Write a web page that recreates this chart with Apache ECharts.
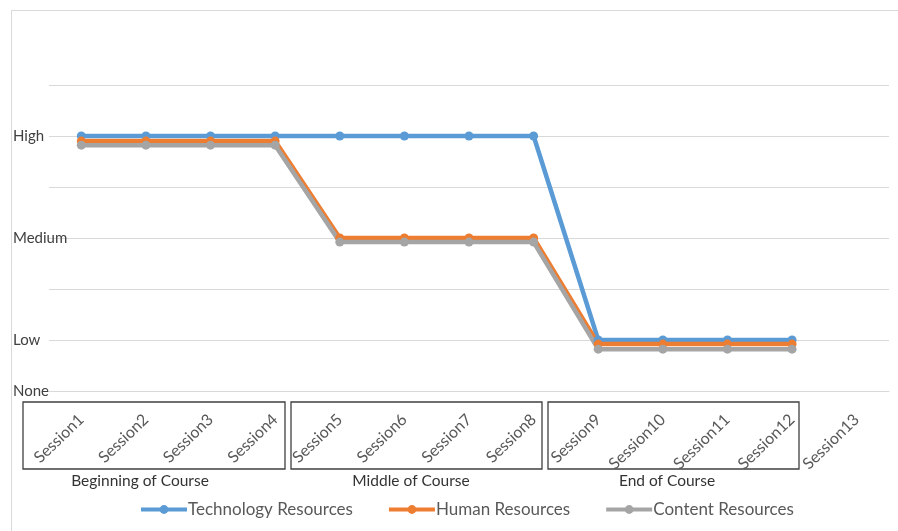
<!DOCTYPE html>
<html>
<head>
<meta charset="utf-8">
<script src="https://cdn.jsdelivr.net/npm/echarts@6/dist/echarts.min.js"></script>
<style>
html,body{margin:0;padding:0;background:#fff;}
#c{width:898px;height:531px;}
</style>
</head>
<body>
<div id="c"></div>
<script>
var categories = ['Session1','Session2','Session3','Session4','Session5','Session6','Session7','Session8','Session9','Session10','Session11','Session12','Session13'];
var yTickLabels = ['None','Low','','Medium','','High',''];
var groupLabels = ['Beginning of Course','Middle of Course','End of Course'];
var seriesNames = ['Technology Resources','Human Resources','Content Resources'];
var technology = [5,5,5,5,5,5,5,5,1,1,1,1];
var human = [4.9,4.9,4.9,4.9,3,3,3,3,0.92,0.92,0.92,0.92];
var content = [4.82,4.82,4.82,4.82,2.92,2.92,2.92,2.92,0.82,0.82,0.82,0.82];
var colors = ['#5B9BD5','#ED7D31','#A5A5A5'];

var FONT = 'Lato';
var chart = echarts.init(document.getElementById('c'), null, {renderer:'canvas'});

function mkSeries(name, data, color){
  return {
    name: name, type: 'line', data: data,
    symbol: 'circle', symbolSize: 9,
    lineStyle: {color: color, width: 4.5},
    itemStyle: {color: color},
    emphasis: {disabled: true},
    animation: false
  };
}

var boxes = [[23,402,262,67],[291,402,251,67],[548,402,251,67]];
var groupX = [140,411,667];
var graphics = [{
  type:'rect', left:9, top:8, shape:{x:0,y:0,width:1000,height:700},
  style:{fill:'none', stroke:'#d9d9d9', lineWidth:1}, silent:true, z:-1
}];
boxes.forEach(function(b){
  graphics.push({type:'rect', shape:{x:b[0],y:b[1],width:b[2],height:b[3]},
    style:{fill:'none', stroke:'#404040', lineWidth:1.3}, silent:true});
});
groupLabels.forEach(function(t,i){
  graphics.push({type:'text', x:groupX[i], y:481,
    style:{text:t, fill:'#333333', font:'15.5px ' + FONT, textAlign:'center', textVerticalAlign:'middle'}, silent:true});
});

chart.setOption({
  animation: false,
  color: colors,
  textStyle: {fontFamily: FONT},
  grid: {left: 49, right: 9, top: 85, bottom: 140, containLabel: false},
  legend: {
    left: 134, top: 496,
    itemWidth: 46, itemHeight: 11, itemGap: 34,
    lineStyle: {width: 4},
    textStyle: {fontFamily: FONT, fontSize: 17, color: '#595959', padding:[0,0,0,-4]},
    data: seriesNames
  },
  xAxis: {
    type: 'category', data: categories, boundaryGap: true,
    axisLine: {show: true, lineStyle: {color: '#d9d9d9'}},
    axisTick: {show: false},
    axisLabel: {rotate: 44, margin: 26, fontSize: 16, color: '#595959', fontFamily: FONT, interval: 0, padding: [0,0,0,0]}
  },
  yAxis: {
    type: 'value', min: 0, max: 6, interval: 1,
    axisLine: {show: false}, axisTick: {show: false},
    splitLine: {lineStyle: {color: '#d9d9d9', width: 1}},
    axisLabel: {
      align: 'left', margin: 36, fontSize: 15, color: '#404040', fontFamily: FONT,
      padding: [0,0,4,0],
      formatter: function(v){ return yTickLabels[Math.round(v)] || ''; }
    }
  },
  graphic: graphics,
  series: [
    mkSeries(seriesNames[0], technology, colors[0]),
    mkSeries(seriesNames[1], human, colors[1]),
    mkSeries(seriesNames[2], content, colors[2])
  ]
});
</script>
</body>
</html>
